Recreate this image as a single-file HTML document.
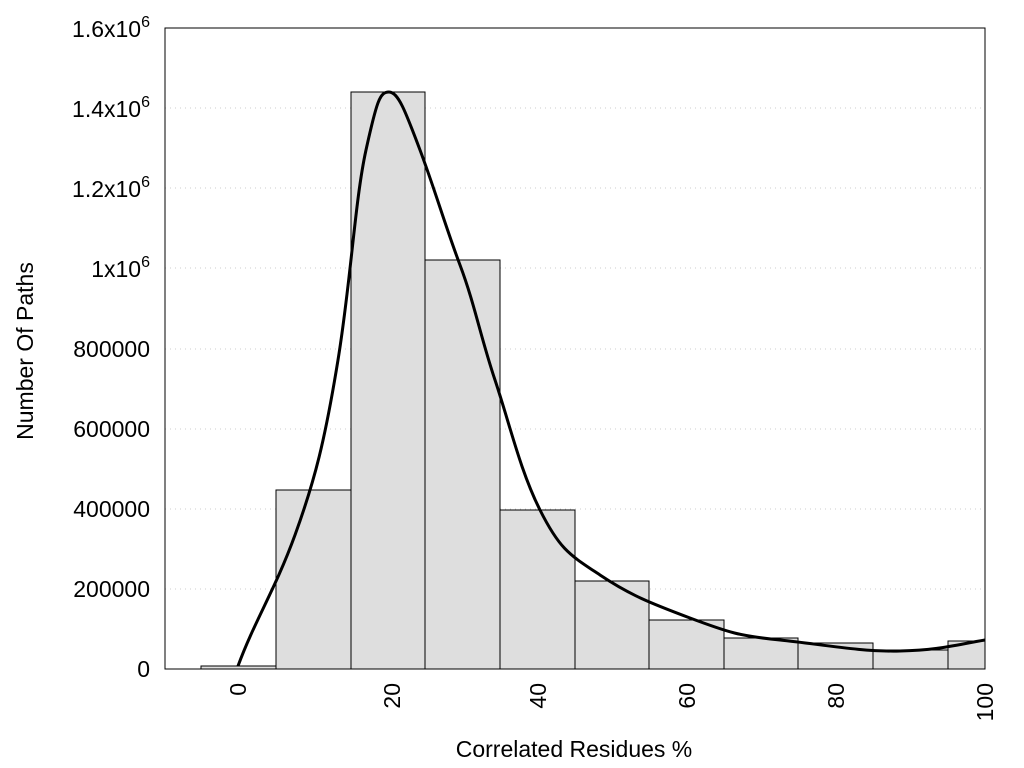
<!DOCTYPE html>
<html><head><style>body{margin:0;background:#fff}svg{display:block}text{font-family:"Liberation Sans",sans-serif;font-size:23px;fill:#000}</style></head><body>
<svg width="1024" height="768" xmlns="http://www.w3.org/2000/svg">
<g stroke="#ccc" stroke-dasharray="1,4" stroke-width="1">
<line x1="165" x2="985" y1="589" y2="589"/><line x1="165" x2="985" y1="509" y2="509"/><line x1="165" x2="985" y1="429" y2="429"/><line x1="165" x2="985" y1="349" y2="349"/><line x1="165" x2="985" y1="268" y2="268"/><line x1="165" x2="985" y1="188" y2="188"/><line x1="165" x2="985" y1="108" y2="108"/>
</g>
<g fill="#dedede" stroke="#000" stroke-width="1">
<rect x="201" y="666" width="75" height="3"/>
<rect x="276" y="490" width="75" height="179"/>
<rect x="351" y="92" width="74" height="577"/>
<rect x="425" y="260" width="75" height="409"/>
<rect x="500" y="510" width="75" height="159"/>
<rect x="575" y="581" width="74" height="88"/>
<rect x="649" y="620" width="75" height="49"/>
<rect x="724" y="638" width="74" height="31"/>
<rect x="798" y="643" width="75" height="26"/>
<rect x="873" y="650" width="75" height="19"/>
<rect x="948" y="641" width="37" height="28"/>
</g>
<path d="M238,666 C255,620 275,590 295,535 S325,440 338,360 S355,200 366,150 S380,92 389,92 S405,110 420,150 S445,225 460,265 S480,335 495,380 S520,470 540,510 S570,555 600,575 S650,603 690,618 S740,636 780,640 S860,652 900,651 S955,645 985,640" fill="none" stroke="#000" stroke-width="3"/>
<rect x="165" y="28" width="820" height="641" fill="none" stroke="#000" stroke-width="1"/>
<g text-anchor="end">
<text x="150" y="677">0</text><text x="150" y="597">200000</text><text x="150" y="517">400000</text><text x="150" y="437">600000</text><text x="150" y="357">800000</text>
<text x="150" y="277">1x10<tspan dy="-10" font-size="16">6</tspan></text>
<text x="150" y="197">1.2x10<tspan dy="-10" font-size="16">6</tspan></text>
<text x="150" y="117">1.4x10<tspan dy="-10" font-size="16">6</tspan></text>
<text x="150" y="37">1.6x10<tspan dy="-10" font-size="16">6</tspan></text>
</g>
<g text-anchor="end">
<text transform="translate(246,683) rotate(-90)">0</text>
<text transform="translate(400,683) rotate(-90)">20</text>
<text transform="translate(546,683) rotate(-90)">40</text>
<text transform="translate(695,683) rotate(-90)">60</text>
<text transform="translate(844,683) rotate(-90)">80</text>
<text transform="translate(993,683) rotate(-90)">100</text>
</g>
<text x="574" y="757" text-anchor="middle">Correlated Residues %</text>
<text transform="translate(33,351) rotate(-90)" text-anchor="middle">Number Of Paths</text>
</svg>
</body></html>
